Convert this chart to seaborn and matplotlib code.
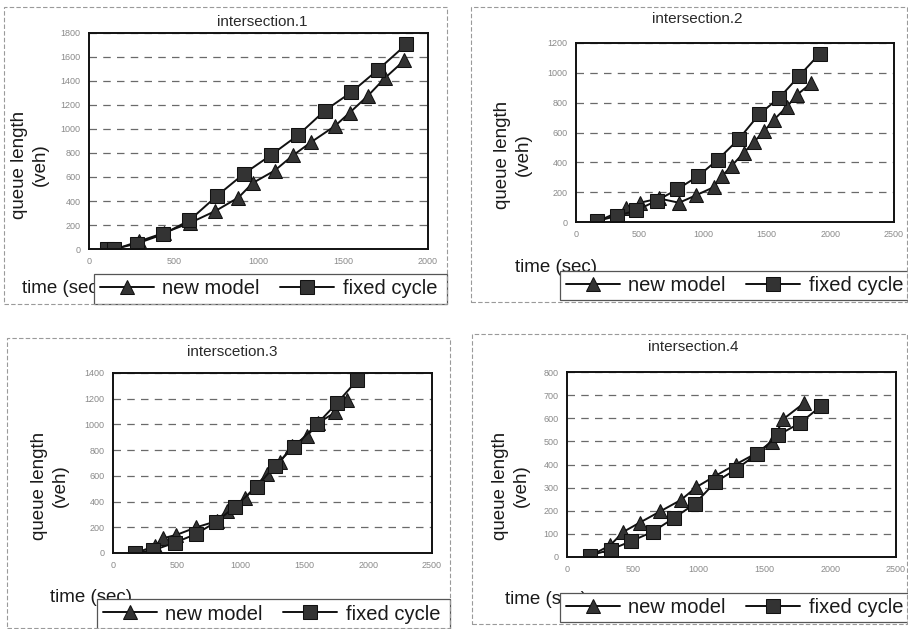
import matplotlib
matplotlib.use('Agg')
import matplotlib.pyplot as plt
from matplotlib.patches import Rectangle
import seaborn as sns
import pandas as pd

sns.set_style('white')
plt.rcParams['font.family'] = ['Liberation Sans', 'DejaVu Sans']

# data (time in sec, queue length in veh)
t1_new = [158, 296, 444, 598, 746, 882, 966, 1095, 1203, 1312, 1450, 1538, 1647, 1746, 1860]
q1_new = [0, 64, 135, 219, 317, 429, 550, 653, 780, 892, 1024, 1136, 1279, 1425, 1571]
t1_fix = [108, 148, 282, 434, 592, 755, 913, 1071, 1233, 1391, 1548, 1706, 1872]
q1_fix = [0, 0, 45, 121, 238, 443, 626, 780, 948, 1153, 1307, 1495, 1705]

t2_new = [170, 397, 502, 653, 810, 946, 1081, 1147, 1225, 1317, 1398, 1481, 1554, 1659, 1735, 1847]
q2_new = [5, 91, 129, 158, 129, 180, 233, 307, 378, 462, 536, 611, 684, 773, 851, 929]
t2_fix = [167, 319, 475, 637, 794, 959, 1115, 1280, 1442, 1599, 1755, 1917]
q2_fix = [7, 40, 78, 144, 218, 307, 418, 556, 724, 833, 980, 1129]

t3_new = [175, 327, 393, 497, 654, 812, 890, 1034, 1204, 1309, 1401, 1518, 1610, 1741, 1832]
q3_new = [0, 53, 115, 141, 200, 248, 328, 427, 613, 707, 832, 907, 1013, 1093, 1187]
t3_fix = [170, 314, 484, 649, 806, 955, 1126, 1270, 1421, 1597, 1754, 1916]
q3_fix = [0, 21, 80, 147, 240, 360, 515, 680, 827, 1000, 1165, 1347]

t4_new = [175, 327, 429, 554, 707, 867, 982, 1122, 1281, 1423, 1556, 1645, 1798]
q4_new = [5, 50, 109, 149, 197, 247, 302, 349, 400, 444, 496, 597, 664]
t4_fix = [173, 332, 490, 651, 811, 969, 1128, 1281, 1441, 1607, 1773, 1931]
q4_fix = [6, 32, 69, 109, 168, 229, 324, 378, 444, 528, 580, 653]

titles = ['intersection.1', 'intersection.2', 'interscetion.3', 'intersection.4']
x_max = [2000, 2500, 2500, 2500]
y_max = [1800, 1200, 1400, 800]
y_step = [200, 200, 200, 100]
series = ['new model', 'fixed cycle']

W, H = 908, 629
fig = plt.figure(figsize=(W / 100, H / 100), dpi=100)

# pixel boxes: plot area, outer frame, title, ylabel, xlabel, legend
plot_box = [(89, 33, 428, 249), (576, 43, 894, 222), (113, 373, 432, 553), (567, 372, 896, 557)]
frame_box = [(4, 7, 447, 304), (471, 7, 907, 302), (7, 338, 450, 628), (472, 334, 907, 624)]
title_xy = [(262, 22), (697, 19), (232, 352), (693, 347)]
ylab_xy = [(30, 165), (513, 155), (50, 486), (511, 486)]
xlab_xy = [(22, 288), (515, 268), (50, 597), (505, 599)]
leg_box = [(94, 274, 447, 304), (560, 271, 908, 300), (97, 599, 450, 629), (560, 593, 908, 622)]


def fx(px):
    return px / W


def fy(py):
    return 1 - py / H


data = [(t1_new, q1_new, t1_fix, q1_fix), (t2_new, q2_new, t2_fix, q2_fix),
        (t3_new, q3_new, t3_fix, q3_fix), (t4_new, q4_new, t4_fix, q4_fix)]

for i in range(4):
    tn, qn, tf, qf = data[i]
    df = pd.DataFrame({
        'time': tn + tf,
        'queue': qn + qf,
        'series': ['new model'] * len(tn) + ['fixed cycle'] * len(tf),
    })

    # outer chart frame
    x0, y0, x1, y1 = frame_box[i]
    fig.patches.append(Rectangle((fx(x0), fy(y1)), fx(x1 - x0), (y1 - y0) / H,
                                 transform=fig.transFigure, fill=False,
                                 edgecolor='#9a9a9a', linewidth=0.8, linestyle=(0, (4, 2))))

    x0, y0, x1, y1 = plot_box[i]
    ax = fig.add_axes([fx(x0), fy(y1), fx(x1 - x0), (y1 - y0) / H])

    sns.lineplot(data=df, x='time', y='queue', hue='series', style='series',
                 hue_order=series, style_order=series,
                 palette={'new model': '#111111', 'fixed cycle': '#111111'},
                 markers={'new model': '^', 'fixed cycle': 's'}, dashes=False,
                 estimator=None, sort=True, linewidth=1.4, markersize=9.5,
                 markerfacecolor='#333333', markeredgecolor='#111111',
                 ax=ax)

    ax.set_xlim(0, x_max[i])
    ax.set_ylim(0, y_max[i])
    ax.set_xticks(range(0, x_max[i] + 1, 500))
    ax.set_yticks(range(0, y_max[i] + 1, y_step[i]))
    ax.tick_params(labelsize=6.5, colors='#8a8a8a', length=0, pad=6)
    ax.yaxis.grid(True, color='#6a6a6a', linestyle=(0, (6, 5)), linewidth=0.9)
    ax.xaxis.grid(False)
    for sp in ax.spines.values():
        sp.set_color('#111111')
        sp.set_linewidth(1.4)
    ax.set_xlabel('')
    ax.set_ylabel('')

    tx, ty = title_xy[i]
    ax.text(fx(tx), fy(ty), titles[i], transform=fig.transFigure, ha='center', va='center',
            fontsize=11, color='#2a2a2a')
    lx, ly = ylab_xy[i]
    ax.text(fx(lx), fy(ly), 'queue length\n(veh)', transform=fig.transFigure, ha='center',
            va='center', rotation=90, fontsize=13.5, color='#1a1a1a', linespacing=1.3)
    bx, by = xlab_xy[i]
    ax.text(fx(bx), fy(by), 'time (sec)', transform=fig.transFigure, ha='left', va='center',
            fontsize=13.5, color='#1a1a1a', clip_on=False)

    # white legend box that covers part of the x label, as in the scan
    x0, y0, x1, y1 = leg_box[i]
    box = Rectangle((fx(x0), fy(y1)), fx(x1 - x0), (y1 - y0) / H, transform=fig.transFigure,
                    facecolor='white', edgecolor='#555555', linewidth=0.9, zorder=4.5,
                    clip_on=False)
    ax.add_artist(box)

    handles, labels = ax.get_legend_handles_labels()
    leg = ax.legend(handles, labels, ncol=2, loc='center left',
                    bbox_to_anchor=(fx(x0 + 2), fy((y0 + y1) / 2)),
                    bbox_transform=fig.transFigure, frameon=False,
                    borderaxespad=0, borderpad=0.2,
                    handlelength=2.7, handletextpad=0.4, columnspacing=1.0,
                    prop={'size': 14.5})
    for txt in leg.get_texts():
        txt.set_color('#1a1a1a')

fig.savefig('out.png', dpi=100)
